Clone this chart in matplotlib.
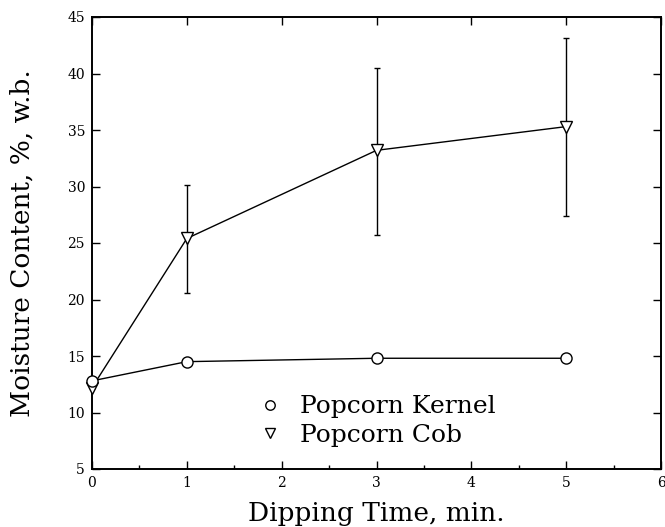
import numpy as np
import matplotlib.pyplot as plt
from matplotlib.ticker import MultipleLocator

# data
time_min = [0, 1, 3, 5]
kernel_mc = [12.8, 14.5, 14.8, 14.8]
cob_mc = [12.2, 25.4, 33.2, 35.3]
cob_low = [12.2, 20.6, 25.7, 27.4]
cob_high = [12.2, 30.1, 40.5, 43.1]

plt.rcParams['font.family'] = ['DejaVu Serif']

fig = plt.figure(figsize=(6.65, 5.27), dpi=100)
ax = fig.add_axes([92/665, 58/527, 569/665, 452/527])

yerr = [np.array(cob_mc) - np.array(cob_low), np.array(cob_high) - np.array(cob_mc)]
ax.errorbar(time_min, cob_mc, yerr=yerr, fmt='none', ecolor='black', elinewidth=1.0,
            capsize=2, capthick=1.0, zorder=2)
ax.plot(time_min, cob_mc, '-', color='black', lw=1.0, marker='v', ms=8,
        mfc='white', mec='black', mew=1.0, zorder=3, label='Popcorn Cob', clip_on=False)
ax.plot(time_min, kernel_mc, '-', color='black', lw=1.0, marker='o', ms=8,
        mfc='white', mec='black', mew=1.0, zorder=3, label='Popcorn Kernel', clip_on=False)

ax.set_xlim(0, 6)
ax.set_ylim(5, 45)
ax.xaxis.set_major_locator(MultipleLocator(1))
ax.xaxis.set_minor_locator(MultipleLocator(0.5))
ax.yaxis.set_major_locator(MultipleLocator(5))
ax.tick_params(which='both', direction='in', top=True, right=True, labelsize=10, width=1.0)
ax.tick_params(which='major', length=6, pad=5)
ax.tick_params(which='minor', length=3, top=False)
for s in ax.spines.values():
    s.set_linewidth(1.4)

ax.set_xlabel('Dipping Time, min.', fontsize=19, labelpad=8)
ax.set_ylabel('Moisture Content, %, w.b.', fontsize=19, labelpad=24)

h, l = ax.get_legend_handles_labels()
leg = ax.legend([h[1], h[0]], [l[1], l[0]], loc='center left',
                bbox_to_anchor=(270/665, 1 - 421/527), bbox_transform=fig.transFigure,
                frameon=False, fontsize=18, handlelength=0, handletextpad=1.2,
                labelspacing=0.22, borderpad=0, borderaxespad=0, markerscale=0.85)
for lh in leg.legend_handles:
    lh.set_linestyle('none')

fig.savefig('out.png', dpi=100)
